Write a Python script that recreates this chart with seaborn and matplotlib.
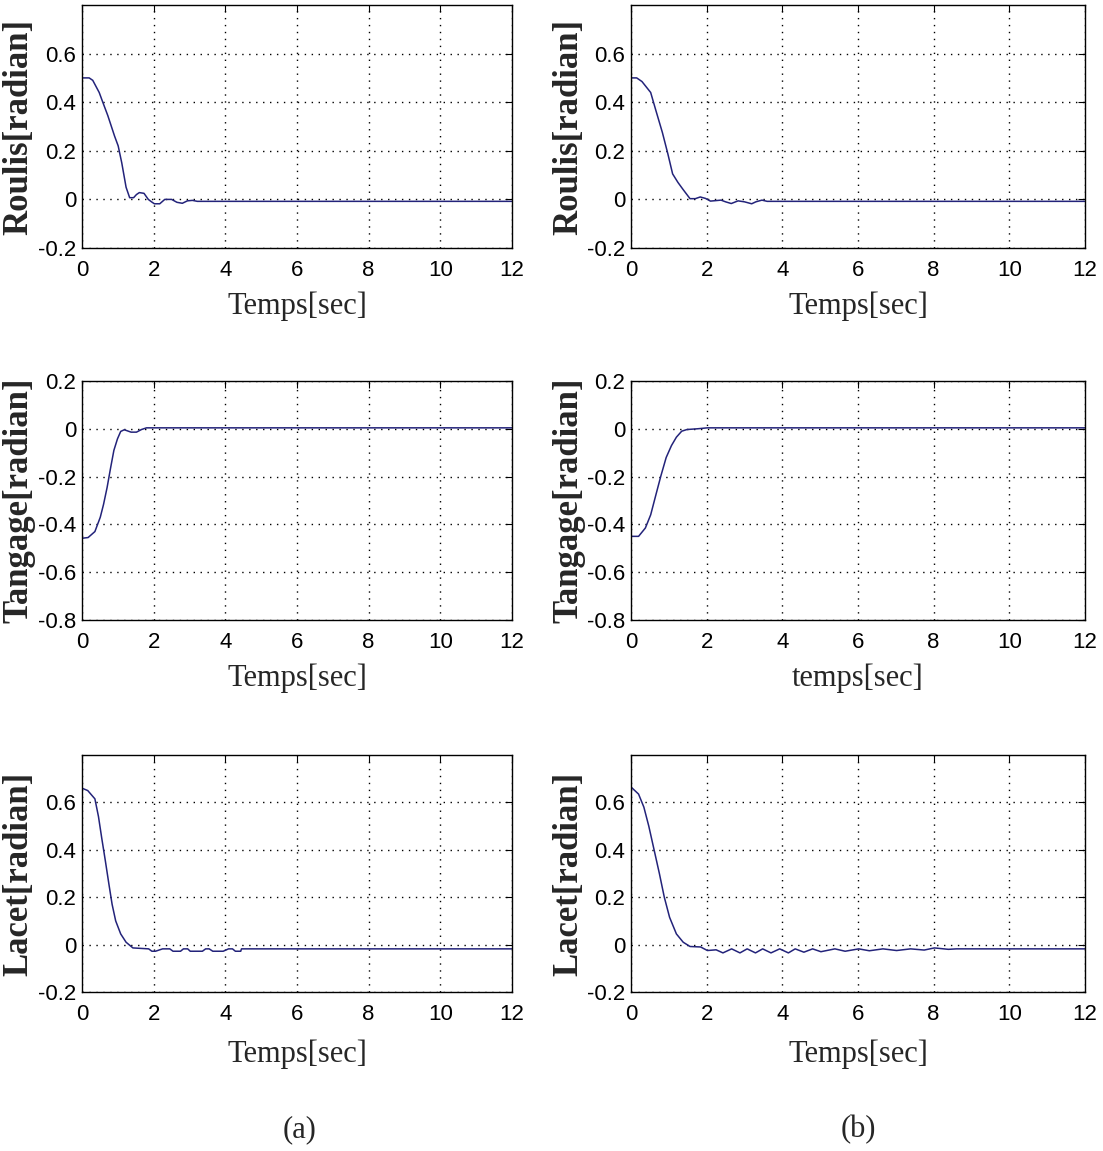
import numpy as np
import pandas as pd
import seaborn as sns
import matplotlib
matplotlib.use("Agg")
import matplotlib.pyplot as plt

# values
roulis_a_t = [0, 0.2, 0.3, 0.48, 0.58, 0.72, 0.91, 1.01, 1.11, 1.23, 1.33, 1.44, 1.52, 1.6, 1.73,
              1.85, 1.94, 2.02, 2.17, 2.31, 2.5, 2.65, 2.8, 2.94, 3.08, 3.22, 3.4, 12]
roulis_a_y = [0.5, 0.5, 0.49, 0.44, 0.40, 0.345, 0.26, 0.22, 0.15, 0.05, 0.007, 0.007, 0.02, 0.028, 0.025,
              0.0, -0.01, -0.018, -0.018, 0.0, 0.0, -0.012, -0.016, -0.006, -0.004, -0.008, -0.008, -0.008]

roulis_b_t = [0, 0.15, 0.29, 0.52, 0.65, 0.83, 0.97, 1.1, 1.24, 1.38, 1.56, 1.7, 1.83, 1.97, 2.1,
              2.38, 2.5, 2.65, 2.83, 3.0, 3.19, 3.3, 3.46, 3.6, 12]
roulis_b_y = [0.5, 0.5, 0.485, 0.44, 0.37, 0.275, 0.19, 0.105, 0.07, 0.04, 0.003, 0.003, 0.01, 0.004, -0.007,
              -0.003, -0.01, -0.017, -0.006, -0.01, -0.018, -0.01, -0.003, -0.008, -0.008]

tangage_a_t = [0, 0.17, 0.36, 0.51, 0.6, 0.7, 0.8, 0.89, 0.99, 1.08, 1.18, 1.37, 1.52, 1.66, 1.8, 12]
tangage_a_y = [-0.458, -0.455, -0.43, -0.37, -0.317, -0.246, -0.162, -0.09, -0.042, -0.011, -0.004,
               -0.014, -0.014, -0.003, 0.004, 0.004]

tangage_b_t = [0, 0.2, 0.38, 0.52, 0.66, 0.79, 0.93, 1.07, 1.2, 1.34, 1.48, 1.75, 2.02, 12]
tangage_b_y = [-0.45, -0.45, -0.415, -0.36, -0.275, -0.197, -0.12, -0.07, -0.035, -0.01, -0.003,
               0.0, 0.004, 0.004]

lacet_a_t = [0, 0.16, 0.36, 0.46, 0.55, 0.65, 0.75, 0.84, 0.94, 1.08, 1.23, 1.42, 1.86, 1.95, 2.05,
             2.25, 2.45, 2.54, 2.75, 2.83, 2.95, 3.02, 3.36, 3.45, 3.55, 3.65, 3.94, 4.09, 4.2, 4.28,
             4.43, 4.45, 12]
lacet_a_y = [0.66, 0.65, 0.615, 0.54, 0.45, 0.355, 0.256, 0.17, 0.1, 0.045, 0.01, -0.014, -0.018, -0.028, -0.028,
             -0.018, -0.018, -0.028, -0.028, -0.018, -0.018, -0.028, -0.028, -0.018, -0.018, -0.028, -0.028,
             -0.018, -0.018, -0.028, -0.028, -0.018, -0.018]

lacet_b_t = [0, 0.2, 0.34, 0.47, 0.61, 0.75, 0.88, 1.02, 1.2, 1.38, 1.56, 1.84, 2.02, 2.25, 2.43,
             2.66, 2.88, 3.07, 3.29, 3.48, 3.7, 3.93, 4.16, 4.34, 4.57, 4.8, 5.02, 5.39, 5.66, 6.02,
             6.3, 6.66, 7.02, 7.39, 7.75, 8.02, 8.39, 8.6, 12]
lacet_b_y = [0.665, 0.635, 0.58, 0.5, 0.4, 0.3, 0.2, 0.115, 0.045, 0.01, -0.008, -0.01, -0.025, -0.022, -0.035,
             -0.018, -0.035, -0.018, -0.035, -0.018, -0.035, -0.018, -0.035, -0.018, -0.032, -0.018, -0.03,
             -0.018, -0.028, -0.018, -0.026, -0.018, -0.025, -0.018, -0.023, -0.014, -0.02, -0.018, -0.018]

x_ticks = [0, 2, 4, 6, 8, 10, 12]
x_ticklabels = ['0', '2', '4', '6', '8', '10', '12']
pos_ticks = [-0.2, 0, 0.2, 0.4, 0.6]
pos_ticklabels = ['-0.2', '0', '0.2', '0.4', '0.6']
neg_ticks = [-0.8, -0.6, -0.4, -0.2, 0, 0.2]
neg_ticklabels = ['-0.8', '-0.6', '-0.4', '-0.2', '0', '0.2']

ylabels = ['Roulis[radian]', 'Tangage[radian]', 'Lacet[radian]']
xlabels_a = ['Temps[sec]', 'Temps[sec]', 'Temps[sec]']
xlabels_b = ['Temps[sec]', 'temps[sec]', 'Temps[sec]']

sns.set_style("white")
plt.rcParams['font.family'] = ['Liberation Serif', 'DejaVu Serif']

W, H = 1103, 1151
fig = plt.figure(figsize=(W / 100, H / 100), dpi=100)

cols = [(82, 512), (631, 1085)]
rows = [(5, 248), (381, 620), (755, 992)]
line_col = '#23237a'
tick_font = ['Liberation Sans', 'DejaVu Sans']
tick_size = 16

series = [
    [(roulis_a_t, roulis_a_y), (roulis_b_t, roulis_b_y)],
    [(tangage_a_t, tangage_a_y), (tangage_b_t, tangage_b_y)],
    [(lacet_a_t, lacet_a_y), (lacet_b_t, lacet_b_y)],
]

for r, (top, bot) in enumerate(rows):
    for c, (left, right) in enumerate(cols):
        ax = fig.add_axes([left / W, 1 - bot / H, (right - left) / W, (bot - top) / H])
        t, y = series[r][c]
        df = pd.DataFrame({'t': t, 'y': y})
        sns.lineplot(data=df, x='t', y='y', ax=ax, color=line_col, linewidth=1.1, estimator=None, sort=False)

        ax.set_xlim(0, 12)
        ax.set_xticks(x_ticks)
        ax.set_xticklabels(x_ticklabels, family=tick_font, fontsize=tick_size)
        if r == 1:
            ax.set_ylim(-0.8, 0.2)
            ax.set_yticks(neg_ticks)
            ax.set_yticklabels(neg_ticklabels, family=tick_font, fontsize=tick_size)
        else:
            ax.set_ylim(-0.2, 0.8)
            ax.set_yticks(pos_ticks)
            ax.set_yticklabels(pos_ticklabels, family=tick_font, fontsize=tick_size)

        ax.grid(True, color='black', linestyle=(0, (1, 4)), linewidth=1.0)
        ax.tick_params(direction='in', length=5, width=0.8, top=True, right=True,
                       pad=4, colors='black')
        ax.tick_params(axis='x', pad=9)
        for sp in ax.spines.values():
            sp.set_color('black')
            sp.set_linewidth(1.0)

        xl = xlabels_a[r] if c == 0 else xlabels_b[r]
        ax.set_xlabel(xl, fontsize=22)
        ax.set_ylabel(ylabels[r], fontsize=25, fontweight='bold')
        ax.xaxis.set_label_coords(0.5, -0.18 if r < 2 else -0.2)
        ax.yaxis.set_label_coords(-0.108 if c == 0 else -0.1, 0.5)

fig.text(300 / W, 1 - 1130 / H, '(a)', ha='center', va='center', fontsize=22)
fig.text(858 / W, 1 - 1130 / H, '(b)', ha='center', va='center', fontsize=22)

fig.savefig('out.png', dpi=100, facecolor='white')
